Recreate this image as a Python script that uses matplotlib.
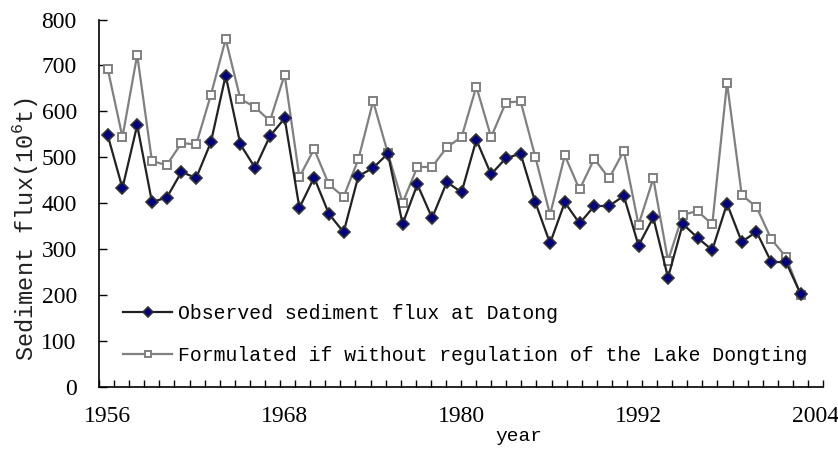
import numpy as np
import matplotlib
matplotlib.use("Agg")
import matplotlib.pyplot as plt

# ── Data ───────────────────────────────────────────────────────────────────
observed = [548, 433, 570, 403, 412, 468, 455, 533, 678, 528, 477, 546,
            585, 390, 456, 377, 337, 459, 477, 508, 355, 441, 368, 446,
            424, 538, 463, 498, 508, 402, 313, 402, 356, 394, 394, 416,
            308, 369, 238, 355, 325, 298, 399, 316, 338, 272, 272, 202]
formulated = [693, 544, 723, 492, 483, 531, 528, 636, 757, 627, 609, 579,
              680, 457, 518, 441, 414, 496, 622, 509, 401, 479, 479, 522,
              544, 654, 544, 619, 622, 501, 375, 504, 430, 497, 454, 514,
              353, 454, 275, 375, 383, 354, 662, 418, 392, 322, 283, 200]
first_year = 1956
label_years = [1956, 1968, 1980, 1992, 2004]
labels = ["Observed sediment flux at Datong",
          "Formulated if without regulation of the Lake Dongting"]

MONO = "Liberation Mono"
SERIF = "Liberation Serif"
plt.rcParams["mathtext.fontset"] = "custom"
plt.rcParams["mathtext.rm"] = MONO

# ── Figure ─────────────────────────────────────────────────────────────────
fig = plt.figure(figsize=(8.38, 4.5), dpi=100)
ax = fig.add_axes([99 / 838, 1 - 387 / 450, 724 / 838, 367.5 / 450])

x = np.arange(len(observed))
ax.plot(x, observed, color="#222222", lw=1.6, marker="D", ms=5.8,
        mfc="#000080", mec="#333333", mew=1.2, label=labels[0], zorder=3)
ax.plot(x, formulated, color="#808080", lw=1.6, marker="s", ms=5.2,
        mfc="white", mec="#808080", mew=1.4, label=labels[1], zorder=2)

xmin, xmax = -0.59, 48.51
ax.set_xlim(xmin, xmax)
ax.set_ylim(0, 800)

# year labels sit on the category positions, tick marks span the axis evenly
ax.set_xticks([y - first_year for y in label_years])
ax.set_xticklabels([str(y) for y in label_years], family=SERIF, fontsize=17)
ax.set_xticks(np.linspace(xmin, xmax, 49), minor=True)
ax.tick_params(axis="x", which="major", length=0, pad=14)
ax.tick_params(axis="x", which="minor", direction="in", length=5, width=1)

ax.set_yticks(range(0, 801, 100))
ax.set_yticklabels([str(v) for v in range(0, 801, 100)], family=SERIF, fontsize=17)
ax.tick_params(axis="y", direction="in", length=6, width=1, pad=16)

for s in ["top", "right"]:
    ax.spines[s].set_visible(False)
for s in ["left", "bottom"]:
    ax.spines[s].set_linewidth(1.2)

ax.set_xlabel("year", family=MONO, fontsize=14)
ax.xaxis.set_label_coords(0.58, -0.112)
ax.set_ylabel("Sediment flux(10$^{6}$t)", family=MONO, fontsize=17, color="#222222")
ax.yaxis.set_label_coords(-0.082, 0.43)

ax.legend(loc="upper left", bbox_to_anchor=(0.033, 0.227), frameon=False,
          prop={"family": MONO, "size": 14.2}, borderpad=0, borderaxespad=0,
          handlelength=2.5, handletextpad=0.3, labelspacing=1.2, markerscale=0.8)

fig.savefig("out.png", dpi=100)
